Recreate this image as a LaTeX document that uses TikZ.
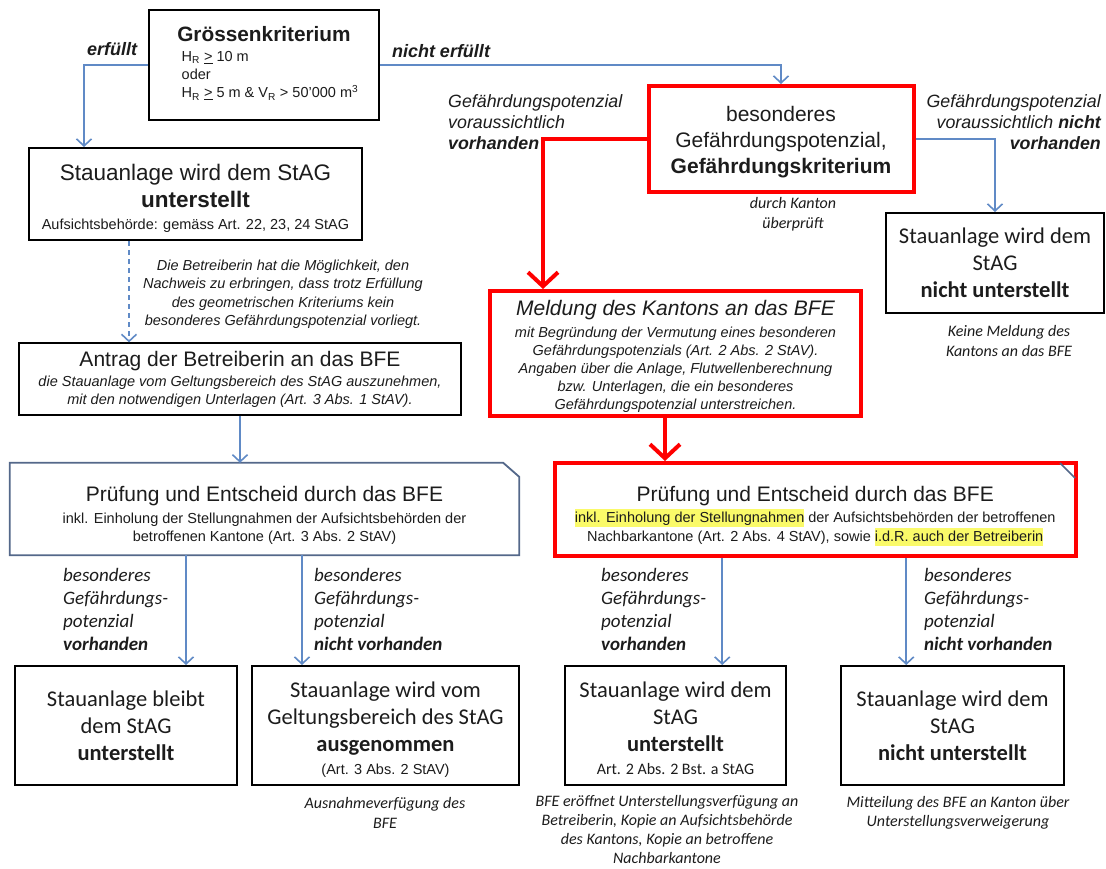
\documentclass[tikz,border=0pt]{standalone}
\usepackage{fontspec}
\setmainfont{Liberation Sans}
\newfontfamily\calibri{Carlito}
\usetikzlibrary{arrows.meta, positioning, calc}
\definecolor{linkblue}{RGB}{96,138,198}
\definecolor{frameblue}{RGB}{84,104,138}
\definecolor{markyellow}{RGB}{250,250,105}
\definecolor{inkgray}{RGB}{28,28,28}
\newcommand{\fs}[2]{\fontsize{#1}{#2}\selectfont}
\newcommand{\sm}{\fs{14.5}{18}}
% invisible strut to push a text block down a little
\newcommand{\up}[1]{\rule{0pt}{#1pt}}
% marker pen behind a piece of text
\newcommand{\yel}[1]{\setbox0\hbox{#1}\rlap{\color{markyellow}\rule[-5pt]{\wd0}{18pt}}\box0\relax}
\tikzstyle{box} = [draw=black, line width=2, fill=white, align=center, inner sep=0pt, text=inkgray]
\tikzstyle{redbox} = [draw=red, line width=4, fill=white, align=center, inner sep=0pt, text=inkgray]
\tikzstyle{link} = [linkblue, line width=1.6, -{Straight Barb[length=7pt,width=15pt]}]
\tikzstyle{redlink} = [red, line width=4, -{Straight Barb[length=14pt,width=30pt]}]
\tikzstyle{cond} = [align=left, text=inkgray, font=\calibri\itshape\fs{19}{23}, inner sep=0pt]
\tikzstyle{note} = [align=center, text=inkgray, font=\calibri\itshape\fs{16}{19.5}, inner sep=0pt]
\tikzstyle{guess} = [text=inkgray, font=\itshape\fs{17.8}{21}, inner sep=0pt]

\begin{document}
\begin{tikzpicture}[x=1pt, y=-1pt]
\useasboundingbox[fill=white] (0,0) rectangle (1106,868);

% Size criterion
\node[box, minimum width=230, minimum height=110, font=\fs{14.5}{18}] (size) at (264,65) {%
  \begin{tabular}{@{}l@{}}
  \multicolumn{1}{@{}c@{}}{\fs{20.8}{24}\textbf{Grössenkriterium}}\\[2pt]
  \hspace{12pt}H\textsubscript{R} \underline{>} 10 m\\
  \hspace{12pt}oder\\
  \hspace{12pt}H\textsubscript{R} \underline{>} 5 m \& V\textsubscript{R} > 50’000 m\textsuperscript{3}
  \end{tabular}};
\node[font=\bfseries\itshape\fs{18}{20}, text=inkgray] (yes) at (112,49) {erfüllt};
\node[font=\bfseries\itshape\fs{18}{20}, text=inkgray] (no) at (441,51) {nicht erfüllt};

% Left branch
\node[box, minimum width=333, minimum height=92, font=\fs{22.5}{27}] (stag) at (195.5,194) {%
  \up{24}Stauanlage wird dem StAG\\
  \textbf{unterstellt}\\[-5pt]
  \fs{14.5}{17}Aufsichtsbehörde: gemäss Art. 22, 23, 24 StAG};
\node[align=center, text=inkgray, font=\itshape\fs{14.5}{18.5}] (proof) at (283,294) {%
  Die Betreiberin hat die Möglichkeit, den\\
  Nachweis zu erbringen, dass trotz Erfüllung\\
  des geometrischen Kriteriums kein\\
  besonderes Gefährdungspotenzial vorliegt.};
\node[box, line width=1.3, minimum width=442, minimum height=72, font=\fs{21}{18}] (antrag) at (240,379) {%
  Antrag der Betreiberin an das BFE\\[2pt]
  \itshape\sm die Stauanlage vom Geltungsbereich des StAG auszunehmen,\\
  \itshape\sm mit den notwendigen Unterlagen (Art. 3 Abs. 1 StAV).};
\node[align=center, inner sep=0pt, text=inkgray, minimum width=509, minimum height=92, font=\fs{21}{18}] (pruefL) at (264.5,509) {%
  \up{28}Prüfung und Entscheid durch das BFE\\[4pt]
  \sm inkl. Einholung der Stellungnahmen der Aufsichtsbehörden der\\
  \sm betroffenen Kantone (Art. 3 Abs. 2 StAV)};
\draw[frameblue, line width=1.8] (pruefL.south west) -- (pruefL.north west)
  -- ([xshift=-16]pruefL.north east) -- ([yshift=-14]pruefL.north east) -- (pruefL.south east) -- cycle;

\node[cond, anchor=west] (condA) at (63,609) {besonderes\\Gefährdungs-\\potenzial\\\textbf{vorhanden}};
\node[cond, anchor=west] (condB) at (314,609) {besonderes\\Gefährdungs-\\potenzial\\\textbf{nicht vorhanden}};

\node[box, minimum width=222, minimum height=119, font=\calibri\fs{22.5}{27}] (keep) at (126,725.5) {%
  Stauanlage bleibt\\dem StAG\\\textbf{unterstellt}};
\node[box, minimum width=267, minimum height=119, font=\calibri\fs{22.5}{27}] (exempt) at (385.5,725.5) {%
  \up{23}Stauanlage wird vom\\Geltungsbereich des StAG\\\textbf{ausgenommen}\\[-4pt]
  \rmfamily\fs{14.5}{17}(Art. 3 Abs. 2 StAV)};
\node[note] (exemptnote) at (385,813) {Ausnahmeverfügung des\\BFE};

% Right branch
\node[redbox, minimum width=265, minimum height=106, font=\fs{21}{26}] (crit) at (781,139) {%
  \up{22}besonderes\\Gefährdungspotenzial,\\\textbf{Gefährdungskriterium}};
\node[note] (check) at (793,214) {durch Kanton\\überprüft};
\node[guess, align=left, anchor=west] (likely) at (448,122) {%
  Gefährdungspotenzial\\voraussichtlich\\\textbf{vorhanden}};
\node[guess, align=right, anchor=east] (unlikely) at (1101,122) {%
  Gefährdungspotenzial\\voraussichtlich \textbf{nicht}\\\textbf{vorhanden}};

\node[box, minimum width=218, minimum height=100, font=\calibri\fs{22.5}{27}] (nostag) at (995,263) {%
  Stauanlage wird dem\\StAG\\\textbf{nicht unterstellt}};
\node[note] (nonote) at (1009,341) {Keine Meldung des\\Kantons an das BFE};

\node[redbox, minimum width=371, minimum height=125, font=\itshape\fs{21}{18}] (melde) at (675.5,353.5) {%
  \up{20}Meldung des Kantons an das BFE\\[4pt]
  \sm mit Begründung der Vermutung eines besonderen\\
  \sm Gefährdungspotenzials (Art. 2 Abs. 2 StAV).\\
  \sm Angaben über die Anlage, Flutwellenberechnung\\
  \sm bzw. Unterlagen, die ein besonderes\\
  \sm Gefährdungspotenzial unterstreichen.};

\node[redbox, minimum width=521.5, minimum height=93, font=\fs{21}{19}] (pruefR) at (815.25,509.5) {%
  \up{28}Prüfung und Entscheid durch das BFE\\[2pt]
  \sm\yel{inkl. Einholung der Stellungnahmen} der Aufsichtsbehörden der betroffenen\\
  \sm Nachbarkantone (Art. 2 Abs. 4 StAV), sowie \yel{i.d.R. auch der Betreiberin}};
\draw[frameblue, line width=1.5] ([xshift=-18,yshift=-2]pruefR.north east) -- ([xshift=-3,yshift=-17]pruefR.north east);

\node[cond, anchor=west] (condC) at (601,609) {besonderes\\Gefährdungs-\\potenzial\\\textbf{vorhanden}};
\node[cond, anchor=west] (condD) at (924,609) {besonderes\\Gefährdungs-\\potenzial\\\textbf{nicht vorhanden}};

\node[box, minimum width=221, minimum height=119, font=\calibri\fs{22.5}{27}] (subj) at (675.5,725.5) {%
  \up{21}Stauanlage wird dem\\StAG\\\textbf{unterstellt}\\[-4pt]
  \fs{16}{19}Art. 2 Abs. 2 Bst. a StAG};
\node[note, font=\calibri\itshape\fs{16}{19}] (subjnote) at (667,829) {BFE eröffnet Unterstellungsverfügung an\\
  Betreiberin, Kopie an Aufsichtsbehörde\\des Kantons, Kopie an betroffene\\Nachbarkantone};
\node[box, minimum width=223, minimum height=119, font=\calibri\fs{22.5}{27}] (nosubj) at (952.5,725.5) {%
  Stauanlage wird dem\\StAG\\\textbf{nicht unterstellt}};
\node[note] (nosubjnote) at (958,813) {Mitteilung des BFE an Kanton über\\Unterstellungsverweigerung};

% Connectors
\draw[link] (size.west) -| ([xshift=56]stag.north west);
\draw[link] (size.east) -| (crit.north);
\draw[link, dashed, dash pattern=on 5pt off 4pt] ([xshift=101]stag.south west) -- ([xshift=101]stag.south west |- antrag.north);
\draw[link] (antrag.south) -- (antrag.south |- pruefL.north);
\draw[link] ([xshift=-78.5]pruefL.south) -- ([xshift=-78.5]pruefL.south |- keep.north);
\draw[link] ([xshift=37.5]pruefL.south) -- ([xshift=37.5]pruefL.south |- exempt.north);
\draw[redlink] (crit.west) -| ([xshift=55]melde.north west);
\draw[link] (crit.east) -| (nostag.north);
\draw[redlink] ([xshift=-10.5]melde.south) -- ([xshift=-10.5]melde.south |- pruefR.north);
\draw[link] ([xshift=-93]pruefR.south) -- ([xshift=-93]pruefR.south |- subj.north);
\draw[link] ([xshift=91]pruefR.south) -- ([xshift=91]pruefR.south |- nosubj.north);

\end{tikzpicture}
\end{document}
